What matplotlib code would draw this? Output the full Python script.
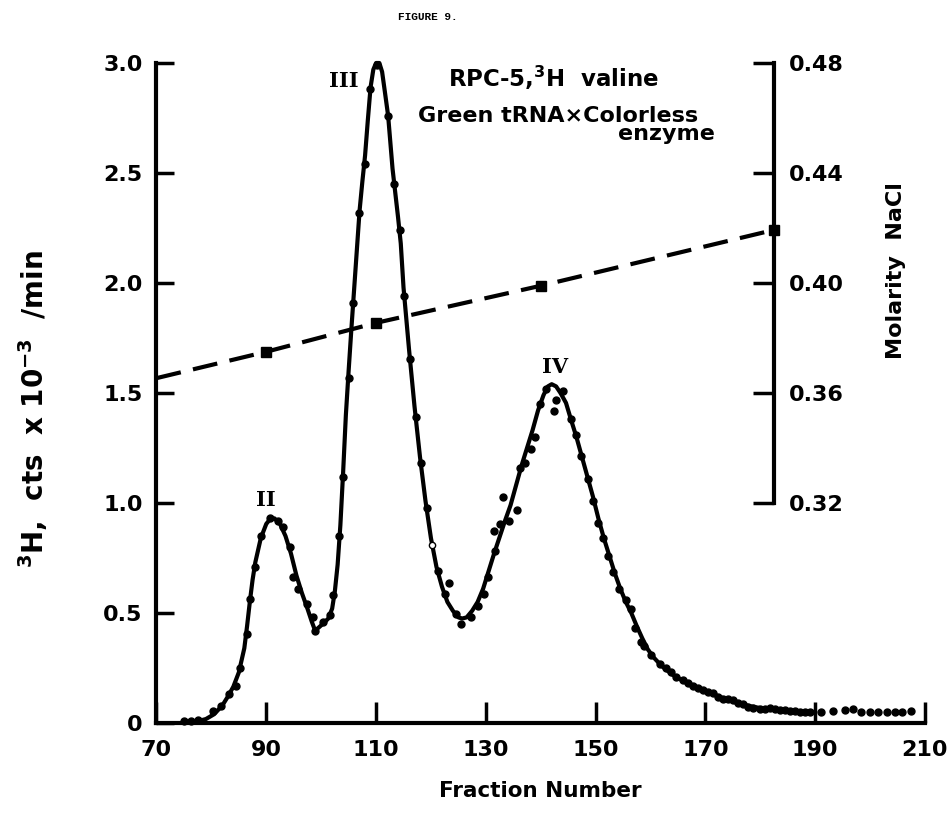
import matplotlib.pyplot as plt

# Dots: fraction number vs 3H counts (x10^-3 cts/min)
dot_frac = [75.0, 76.3, 77.6, 80.3, 81.8, 83.3, 84.4, 85.3, 86.4, 87.0, 87.9, 89.0,
            90.6, 92.2, 93.1, 94.3, 94.9, 95.8, 97.4, 98.6, 98.9, 100.4, 101.6, 102.2,
            103.3, 104.0, 105.0, 105.8, 106.9, 107.9, 108.9, 110.1, 112.2, 113.2, 114.4,
            115.0, 116.2, 117.2, 118.1, 119.2, 121.2, 122.5, 123.3, 124.5, 125.5, 127.3,
            128.5, 129.6, 130.4, 131.6, 131.4, 132.5, 133.2, 134.3, 135.6, 136.2, 137.2,
            138.3, 138.9, 139.8, 141.0, 142.5, 142.8, 144.0, 145.6, 146.5, 147.4, 148.6,
            149.5, 150.4, 151.3, 152.2, 153.1, 154.3, 155.6, 156.5, 157.1, 158.3, 158.9,
            160.1, 161.7, 162.9, 163.8, 164.7, 165.9, 166.8, 167.7, 168.6, 169.6, 170.5,
            171.4, 172.3, 173.2, 174.1, 175.0, 176.0, 176.9, 177.8, 178.7, 179.9, 180.8,
            181.7, 182.6, 183.6, 184.5, 185.4, 186.3, 187.2, 188.1, 189.0, 191.1, 193.2,
            195.4, 196.9, 198.4, 200.0, 201.5, 203.0, 204.6, 205.8, 207.4]
dot_cpm = [0.008, 0.010, 0.015, 0.054, 0.077, 0.13, 0.17, 0.25, 0.405, 0.565, 0.71, 0.85,
           0.93, 0.92, 0.89, 0.80, 0.665, 0.61, 0.54, 0.48, 0.42, 0.46, 0.49, 0.58,
           0.85, 1.12, 1.57, 1.91, 2.32, 2.54, 2.88, 2.99, 2.76, 2.45, 2.24,
           1.94, 1.655, 1.39, 1.18, 0.976, 0.69, 0.585, 0.635, 0.495, 0.45, 0.48,
           0.53, 0.585, 0.665, 0.78, 0.874, 0.905, 1.026, 0.92, 0.97, 1.16, 1.18,
           1.245, 1.30, 1.45, 1.52, 1.42, 1.47, 1.51, 1.38, 1.31, 1.215, 1.11,
           1.01, 0.91, 0.84, 0.76, 0.685, 0.61, 0.56, 0.52, 0.43, 0.37, 0.35,
           0.31, 0.27, 0.25, 0.23, 0.21, 0.195, 0.18, 0.17, 0.16, 0.15, 0.14,
           0.135, 0.12, 0.11, 0.107, 0.105, 0.092, 0.086, 0.075, 0.067, 0.062, 0.064,
           0.067, 0.062, 0.059, 0.058, 0.056, 0.053, 0.051, 0.050, 0.051, 0.051, 0.056,
           0.059, 0.062, 0.051, 0.049, 0.049, 0.049, 0.051, 0.051, 0.055]

# one open circle on the falling side of peak III
open_frac = [120.2]
open_cpm = [0.81]

# Hand-drawn smooth curve through the dots
curve_frac = [75.0, 77.0, 79.0, 80.5, 82.0, 83.0, 84.0, 85.0, 86.0, 86.5, 87.0, 87.5, 88.0,
              89.0, 90.0, 90.8, 91.5, 92.5, 93.5, 94.5, 95.5, 96.5, 97.5, 98.3, 98.9,
              99.6, 100.5, 101.3, 102.0, 102.5, 103.0, 103.5, 104.0, 104.5, 105.0, 105.5,
              106.0, 106.5, 107.0, 107.5, 108.0, 108.5, 109.0, 109.5, 110.0, 110.6, 111.1,
              111.6, 112.2, 113.0, 114.0, 114.5, 115.0, 116.0, 117.0, 118.0, 119.0, 120.0,
              121.0, 122.0, 123.0, 124.0, 125.0, 125.7, 126.5, 127.5, 128.5, 129.5, 130.5,
              131.5, 132.5, 133.5, 134.5, 135.5, 136.5, 137.5, 138.5, 139.5, 140.5, 141.3,
              142.0, 142.8, 143.6, 144.6, 145.5, 146.5, 147.5, 148.5, 149.5, 150.5, 151.5,
              152.5, 153.5, 154.5, 155.5, 156.5, 157.5, 158.5, 159.5, 160.5, 162.0, 164.0,
              166.0, 168.0, 170.0, 172.0, 174.0, 176.0, 178.0, 180.0, 183.0, 186.0, 190.0]
curve_cpm = [0.000, 0.005, 0.018, 0.04, 0.08, 0.12, 0.165, 0.23, 0.34, 0.44, 0.55, 0.65, 0.73,
             0.84, 0.905, 0.93, 0.93, 0.905, 0.85, 0.77, 0.67, 0.59, 0.52, 0.46, 0.42,
             0.435, 0.455, 0.475, 0.52, 0.60, 0.72, 0.90, 1.14, 1.40, 1.60, 1.79,
             1.97, 2.15, 2.33, 2.46, 2.58, 2.74, 2.89, 2.97, 3.00, 3.00, 2.96,
             2.87, 2.76, 2.52, 2.30, 2.18, 1.98, 1.70, 1.44, 1.21, 1.01, 0.84,
             0.71, 0.62, 0.55, 0.51, 0.48, 0.475, 0.48, 0.51, 0.55, 0.61, 0.69,
             0.77, 0.845, 0.92, 0.99, 1.08, 1.17, 1.25, 1.33, 1.42, 1.49, 1.53,
             1.54, 1.53, 1.50, 1.455, 1.38, 1.30, 1.21, 1.12, 1.03, 0.93, 0.84,
             0.76, 0.68, 0.61, 0.55, 0.50, 0.44, 0.385, 0.335, 0.30, 0.26, 0.22,
             0.19, 0.165, 0.145, 0.125, 0.105, 0.09, 0.077, 0.068, 0.06, 0.055, 0.05]

# NaCl gradient (dashed line, right axis)
salt_frac = [70, 90, 110, 140, 182.5]
salt_molarity = [0.3654, 0.375, 0.3855, 0.399, 0.4193]

x_ticks = [70, 90, 110, 130, 150, 170, 190, 210]
y_ticks = [0, 0.5, 1.0, 1.5, 2.0, 2.5, 3.0]
y_tick_labels = ['0', '0.5', '1.0', '1.5', '2.0', '2.5', '3.0']
salt_ticks = [0.32, 0.36, 0.40, 0.44, 0.48]
salt_tick_labels = ['0.32', '0.36', '0.40', '0.44', '0.48']

plt.rcParams['font.family'] = ['DejaVu Sans']
plt.rcParams['font.weight'] = 'bold'
plt.rcParams['mathtext.default'] = 'bf'

fig = plt.figure(figsize=(9.49, 8.3), dpi=100)
ax = fig.add_axes([0.1649, 0.1289, 0.8098, 0.7952])

# elution profile
ax.plot(curve_frac, curve_cpm, color='black', lw=3, clip_on=False,
        solid_capstyle='round', zorder=3)
ax.plot(dot_frac, dot_cpm, 'o', color='black', ms=5, clip_on=False, zorder=4)
ax.plot(open_frac, open_cpm, 'o', mfc='white', mec='black', ms=4.5, mew=1,
        clip_on=False, zorder=5)

ax.set_xlim(70, 210)
ax.set_ylim(0, 3.0)
ax.set_xticks(x_ticks)
ax.set_yticks(y_ticks)
ax.set_yticklabels(y_tick_labels)
ax.spines['top'].set_visible(False)
ax.spines['right'].set_visible(False)
ax.spines['left'].set_linewidth(3)
ax.spines['bottom'].set_linewidth(3)
ax.tick_params(axis='both', direction='in', width=2.5, labelsize=16)
ax.tick_params(axis='x', length=15, pad=12)
ax.tick_params(axis='y', length=13, pad=10)

ax.set_xlabel('Fraction Number', fontsize=15.5, fontweight='bold')
ax.xaxis.set_label_coords(0.499, -0.0879)
ax.set_ylabel('$^{3}$H,  cts  x 10$^{-3}$  /min', fontsize=20, fontweight='bold')
ax.yaxis.set_label_coords(-0.1386, 0.476)

# peak labels
ax.text(89.9, 1.014, 'II', family='DejaVu Serif', weight='bold', size=15,
        ha='center', va='center')
ax.text(104.1, 2.92, 'III', family='DejaVu Serif', weight='bold', size=15,
        ha='center', va='center')
ax.text(142.7, 1.62, 'IV', family='DejaVu Serif', weight='bold', size=15,
        ha='center', va='center')

# right axis: molarity NaCl, spine sits inside the plot
ax2 = ax.twinx()
ax2.set_ylim(0.24, 0.48)
ax2.plot(salt_frac, salt_molarity, color='black', lw=3, dashes=(6, 3),
         marker='s', ms=7, markevery=[1, 2, 3, 4], clip_on=False, zorder=3)
for side in ['top', 'left', 'bottom']:
    ax2.spines[side].set_visible(False)
ax2.spines['right'].set_position(('data', 182.5))
ax2.spines['right'].set_bounds(0.32, 0.48)
ax2.spines['right'].set_linewidth(3)
ax2.set_yticks(salt_ticks)
ax2.set_yticklabels(salt_tick_labels)
ax2.tick_params(axis='y', direction='in', length=15, width=2.5, pad=11, labelsize=16)
ax2.set_ylabel('Molarity  NaCl', fontsize=16, fontweight='bold')
ax2.yaxis.set_label_coords(0.949, 0.686)

# header and experiment description
fig.text(428 / 949, 1 - 17 / 830, 'FIGURE 9.', family='Liberation Mono', size=8,
         weight='bold', ha='center', va='center')
fig.text(554 / 949, 1 - 87 / 830, 'RPC-5,$^{3}$H  valine', size=16.5,
         ha='center', va='baseline')
fig.text(558 / 949, 1 - 122 / 830, 'Green tRNA\u00d7Colorless', size=16,
         ha='center', va='baseline')
fig.text(715 / 949, 1 - 140 / 830, 'enzyme', size=16, ha='right', va='baseline')

plt.savefig('out.png', dpi=100)
